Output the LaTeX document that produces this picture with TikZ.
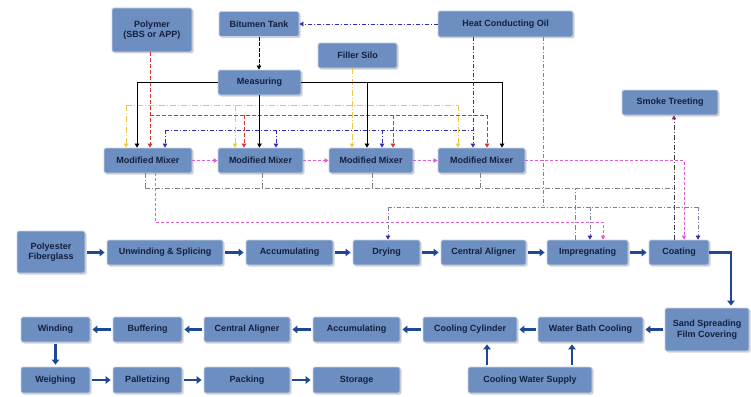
\documentclass[tikz,border=0pt]{standalone}
\usepackage{fontspec}
\setmainfont{Liberation Sans}
\usetikzlibrary{arrows.meta,shadows,calc}
\definecolor{boxfill}{RGB}{108,142,192}
\definecolor{boxline}{RGB}{200,210,226}
\definecolor{txt}{RGB}{20,32,62}
\definecolor{flow}{RGB}{28,72,150}
\definecolor{yel}{RGB}{235,200,70}
\definecolor{redl}{RGB}{215,50,50}
\definecolor{bluel}{RGB}{45,45,175}
\definecolor{pinkl}{RGB}{225,90,215}
\definecolor{grayl}{RGB}{130,130,130}
\definecolor{purpl}{RGB}{130,125,165}
\definecolor{smk}{RGB}{135,40,115}
\begin{document}
\begin{tikzpicture}[x=1pt,y=-1pt,
  box/.style={draw=boxline, line width=0.8pt, fill=boxfill, rounded corners=1.5pt,
    drop shadow={shadow xshift=1.5pt,shadow yshift=-1.5pt,opacity=0.35},
    text=txt, font=\fontsize{9}{10.5}\selectfont\bfseries, align=center,
    inner sep=1pt, minimum height=25pt},
  flowar/.style={draw=flow, line width=2.2pt, shorten <=2pt, shorten >=2pt,
    -{Triangle[length=5pt,width=7.5pt]}},
  tipr/.style={-{Triangle[length=4pt,width=4.5pt]}},
  yl/.style={draw=yel, line width=0.7pt, dash pattern=on 6pt off 2pt on 1pt off 2pt},
  rd/.style={draw=redl, line width=0.7pt, dash pattern=on 4pt off 2pt},
  blk/.style={draw=black, line width=0.7pt},
  blkd/.style={draw=black, line width=0.7pt, dash pattern=on 4pt off 1.5pt},
  bl/.style={draw=bluel, line width=0.7pt, dash pattern=on 4pt off 2pt on 1pt off 2pt},
  pk/.style={draw=pinkl, line width=0.7pt, dash pattern=on 3pt off 2pt},
  gr/.style={draw=grayl, line width=0.7pt, dash pattern=on 5pt off 2pt on 1pt off 2pt},
  pu/.style={draw=purpl, line width=0.7pt, dash pattern=on 4pt off 2pt on 1pt off 2pt},
  dk/.style={draw=black!75, line width=0.9pt, dash pattern=on 5pt off 2pt on 1pt off 2pt},
]
\useasboundingbox (0,0) rectangle (751,396);

% ---- nodes ----
\node[box, minimum width=80pt, minimum height=44pt] (poly) at (152,30) {Polymer\\(SBS or APP)};
\node[box, minimum width=80pt] (bit) at (259,24) {Bitumen Tank};
\node[box, minimum width=135pt, minimum height=26pt] (hco) at (505.5,24) {Heat Conducting Oil};
\node[box, minimum width=79pt] (filler) at (357.5,55.5) {Filler Silo};
\node[box, minimum width=83pt] (meas) at (259.5,82.5) {Measuring};
\node[box, minimum width=96pt] (smoke) at (670,102.5) {Smoke Treeting};
\node[box, minimum width=88pt] (mm1) at (148,160.5) {Modified Mixer};
\node[box, minimum width=85pt] (mm2) at (260.5,160.5) {Modified Mixer};
\node[box, minimum width=84pt] (mm3) at (371,160.5) {Modified Mixer};
\node[box, minimum width=87pt] (mm4) at (481.5,160.5) {Modified Mixer};

\node[box, minimum width=68pt, minimum height=42pt] (pf) at (51,252) {Polyester\\Fiberglass};
\node[box, minimum width=116pt] (unw) at (165,252.5) {Unwinding \& Splicing};
\node[box, minimum width=87pt] (acc1) at (289.5,252.5) {Accumulating};
\node[box, minimum width=67pt] (dry) at (386.5,252.5) {Drying};
\node[box, minimum width=85pt] (ca1) at (483.5,252.5) {Central Aligner};
\node[box, minimum width=81pt] (imp) at (587.5,252.5) {Impregnating};
\node[box, minimum width=60pt] (coat) at (679,252.5) {Coating};

\node[box, minimum width=84pt, minimum height=43pt] (sand) at (707,329.5) {Sand Spreading\\Film Covering};
\node[box, minimum width=105pt] (wbc) at (590.5,329.5) {Water Bath Cooling};
\node[box, minimum width=94pt] (cc) at (470,329.5) {Cooling Cylinder};
\node[box, minimum width=87pt] (acc2) at (356.5,329.5) {Accumulating};
\node[box, minimum width=86pt] (ca2) at (247,329.5) {Central Aligner};
\node[box, minimum width=69pt] (buf) at (147.5,329.5) {Buffering};
\node[box, minimum width=69pt] (wind) at (55.5,329.5) {Winding};

\node[box, minimum width=124pt, minimum height=26pt] (cws) at (530,380) {Cooling Water Supply};
\node[box, minimum width=69pt, minimum height=26pt] (weigh) at (55.5,380) {Weighing};
\node[box, minimum width=69pt, minimum height=26pt] (pal) at (147.5,380) {Palletizing};
\node[box, minimum width=86pt, minimum height=26pt] (pack) at (247,380) {Packing};
\node[box, minimum width=87pt, minimum height=26pt] (stor) at (356.5,380) {Storage};

% ---- lane coordinates ----
\foreach \n/\x in {y1/126,y2/235,y3/352,y4/458,k1/137,k3/367,k4/502,
  r1/150,r2/244,r3/393,r4/487,u1/165,u2/276,u3/382,u4/473,
  p0/155,p1/603,p2/684,g1/145,g2/262,g3/372,g4/480,gi/575,s/674,
  h5/543,d1/388,d2/590,d3/698,c1/487,c2/572}
  \coordinate (\n) at (\x,0);
\foreach \n/\y in {hY/105,hR/115,hB/130,hG/188,hH/207,hP/222}
  \coordinate (\n) at (0,\y);

% ---- supply lines to mixers ----
\draw[blkd,tipr] (bit.south) -- (bit.south |- meas.north);
\draw[bl,-{Triangle[length=4pt,width=4.5pt,color=bluel]}] (hco.west) -- (bit.east);

% filler (yellow)
\draw[yl,tipr] (filler.south -| y3) -- (mm3.north -| y3);
\draw[yl] (y1 |- hY) -- (y4 |- hY);
\foreach \c/\m in {y1/mm1,y2/mm2,y4/mm4}
  \draw[yl,tipr] (\c |- hY) -- (\m.north -| \c);

% polymer (red)
\draw[rd,tipr] (poly.south -| r1) -- (mm1.north -| r1);
\draw[rd] (r1 |- hR) -- (r4 |- hR);
\foreach \c/\m in {r2/mm2,r3/mm3,r4/mm4}
  \draw[rd,tipr] (\c |- hR) -- (\m.north -| \c);

% measuring (black)
\draw[blk,tipr] (meas.west) -| (mm1.north -| k1);
\draw[blk,tipr] (meas.east) -| (mm4.north -| k4);
\draw[blk,tipr] (meas.east -| k3) -- (mm3.north -| k3);
\draw[blk,tipr] (meas.south) -- (meas.south |- mm2.north);

% heat conducting oil (blue)
\draw[bl,tipr] (hco.south -| u4) -- (mm4.north -| u4);
\draw[bl] (u1 |- hB) -- (u4 |- hB);
\foreach \c/\m in {u1/mm1,u2/mm2,u3/mm3}
  \draw[bl,tipr] (\c |- hB) -- (\m.north -| \c);

% mixer chain (pink)
\draw[pk,tipr] (mm1.east) -- (mm2.west);
\draw[pk,tipr] (mm2.east) -- (mm3.west);
\draw[pk,tipr] (mm3.east) -- (mm4.west);
\draw[pk,tipr] (mm4.east) -| (coat.north -| p2);
\draw[pk,tipr] (mm1.south -| p0) |- (p1 |- hP) -- (imp.north -| p1);

% exhaust (gray) to smoke treeting
\foreach \c/\m in {g1/mm1,g2/mm2,g3/mm3,g4/mm4}
  \draw[gr] (\m.south -| \c) -- (\c |- hG);
\draw[gr] (g1 |- hG) -- (s |- hG);
\draw[gr] (imp.north -| gi) -- (gi |- hG);
\draw[dk,-{Triangle[length=4pt,width=4.5pt,color=smk]}] (coat.north -| s) -- (smoke.south -| s);

% heat conducting oil to drying / impregnating / coating
\draw[pu] (hco.south -| h5) -- (h5 |- hH);
\draw[pu] (d1 |- hH) -- (d3 |- hH);
\foreach \c/\m in {d1/dry,d2/imp,d3/coat}
  \draw[pu,-{Triangle[length=4pt,width=4.5pt,color=bluel]}] (\c |- hH) -- (\m.north -| \c);

% ---- main flow ----
\draw[flowar] (pf.east |- unw.west) -- (unw.west);
\draw[flowar] (unw.east) -- (acc1.west);
\draw[flowar] (acc1.east) -- (dry.west);
\draw[flowar] (dry.east) -- (ca1.west);
\draw[flowar] (ca1.east) -- (imp.west);
\draw[flowar] (imp.east) -- (coat.west);
\draw[flowar,shorten <=0pt] (coat.east) -| ([xshift=24pt]sand.north);
\draw[flowar] (sand.west) -- (wbc.east);
\draw[flowar] (wbc.west) -- (cc.east);
\draw[flowar] (cc.west) -- (acc2.east);
\draw[flowar] (acc2.west) -- (ca2.east);
\draw[flowar] (ca2.west) -- (buf.east);
\draw[flowar] (buf.west) -- (wind.east);
\draw[flowar] (wind.south) -- (weigh.north);
\draw[flowar] (weigh.east) -- (pal.west);
\draw[flowar] (pal.east) -- (pack.west);
\draw[flowar] (pack.east) -- (stor.west);
\draw[flowar] (cws.north -| c1) -- (cc.south -| c1);
\draw[flowar] (cws.north -| c2) -- (wbc.south -| c2);
\end{tikzpicture}
\end{document}
